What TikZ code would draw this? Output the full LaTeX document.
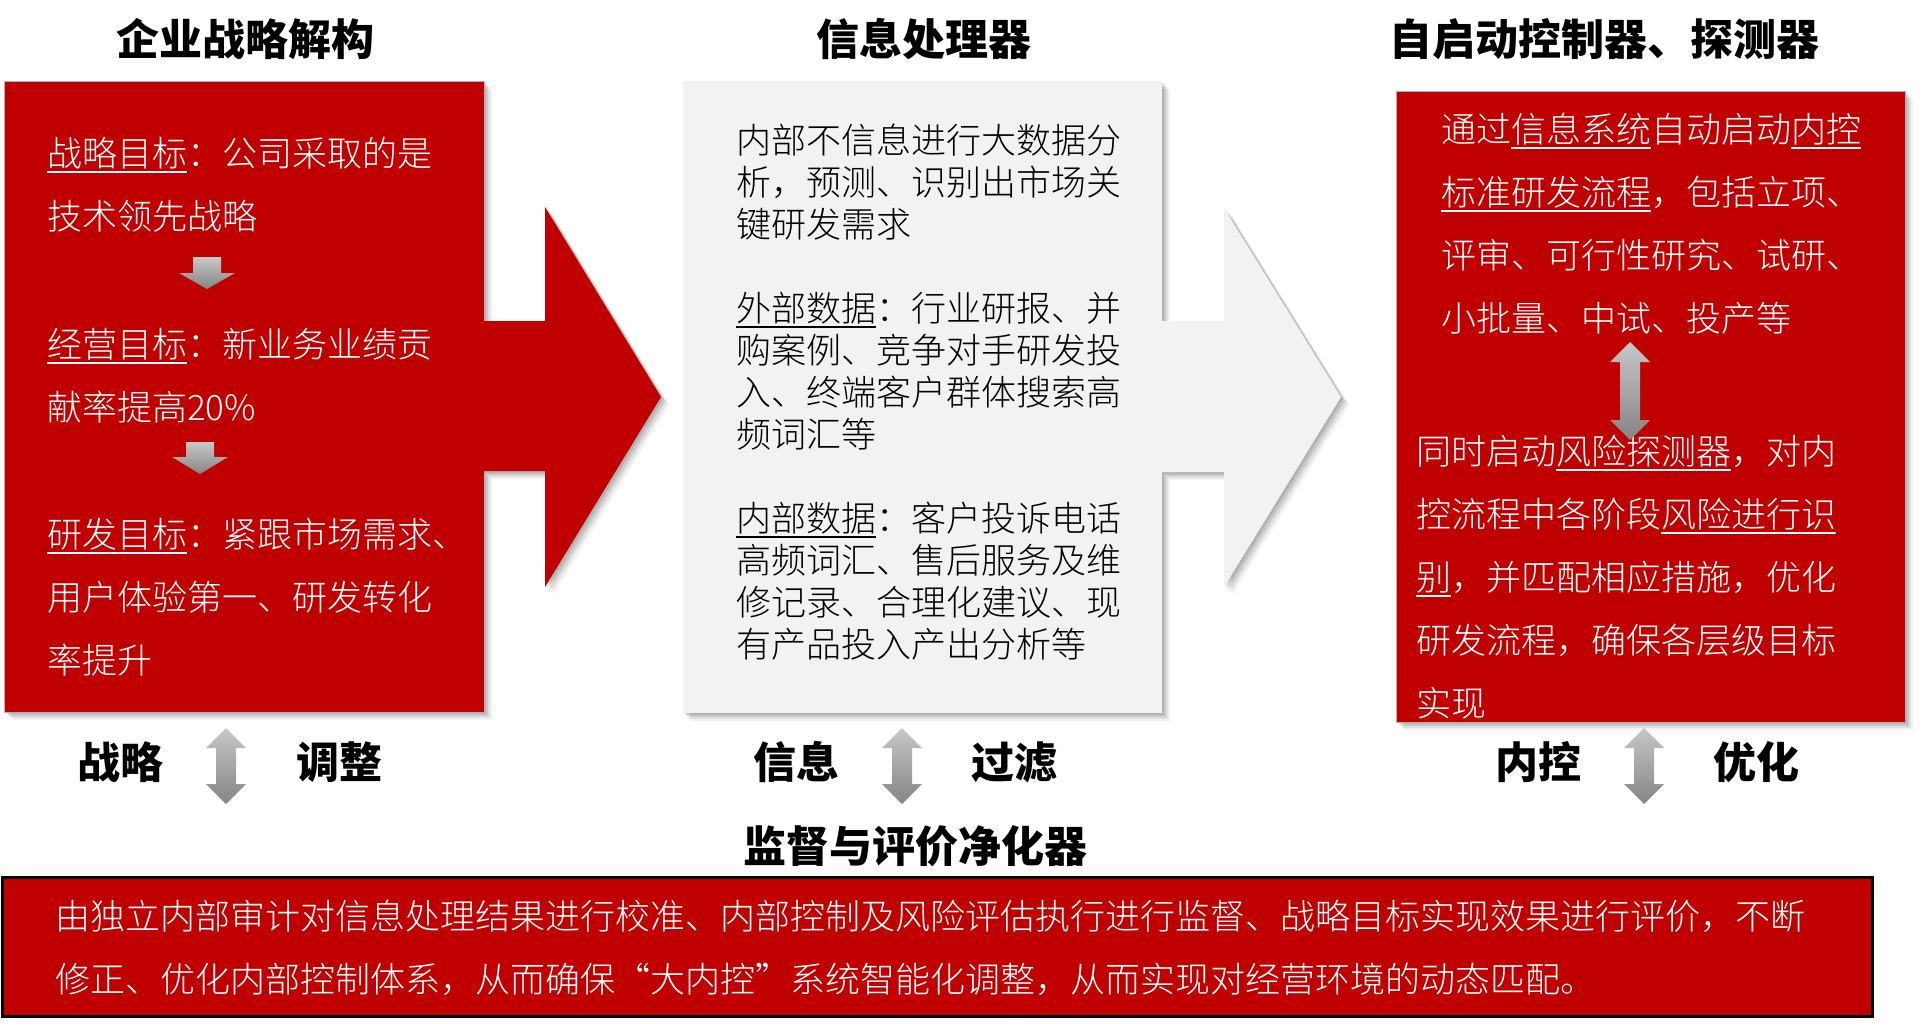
\documentclass[tikz,border=0pt]{standalone}
\usepackage{fontspec}
\setmainfont{Noto Sans CJK SC Light}
\newfontfamily\headfont{Noto Sans CJK SC Black}
\newsavebox\myulbox
\newcommand\myul[1]{\sbox\myulbox{#1}\rlap{\rule[-7pt]{\wd\myulbox}{2pt}}\usebox\myulbox}
\usetikzlibrary{shadows}
\definecolor{dred}{RGB}{192,0,0}
\definecolor{lgrey}{RGB}{242,242,242}
\tikzset{
  shad/.style={drop shadow={shadow xshift=2pt,shadow yshift=-2pt,fill=black,opacity=0.10},
               drop shadow={shadow xshift=4pt,shadow yshift=-4pt,fill=black,opacity=0.10},
               drop shadow={shadow xshift=6pt,shadow yshift=-6pt,fill=black,opacity=0.08},
               drop shadow={shadow xshift=8pt,shadow yshift=-8pt,fill=black,opacity=0.05}},
  redpanel/.style={fill=dred,draw=black!30,line width=1pt,inner sep=0pt,shad},
  greypanel/.style={fill=lgrey,inner sep=0pt,shad},
  body/.style={anchor=base west,inner sep=0pt,align=left,font=\fontsize{35}{63}\selectfont},
  whitebody/.style={body,text=white},
  blackbody/.style={body,text=black,font=\fontsize{35}{42}\selectfont},
  heading/.style={anchor=base,inner sep=0pt,font=\headfont\fontsize{43}{50}\selectfont,text=black},
  gshade/.style={top color=black!22,bottom color=black!48},
}
\newcommand\vdbl[3]{\shade[gshade] (#1,#2) -- ++(20,20) -- ++(-10,0) -- (#1+10,#3-20) -- ++(10,0) -- (#1,#3) -- ++(-20,-20) -- ++(10,0) -- (#1-10,#2+20) -- ++(-10,0) -- cycle;}
\newcommand\vdown[4]{\shade[gshade] (#1-14,#2) -- (#1+14,#2) -- (#1+14,#3) -- (#1+28,#3) -- (#1,#4) -- (#1-28,#3) -- (#1-14,#3) -- cycle;}
\begin{document}
\begin{tikzpicture}[x=1pt,y=-1pt]
\useasboundingbox (0,0) rectangle (1920,1023);
\fill[white] (0,0) rectangle (1920,1023);

% panels
\node[redpanel,minimum width=480pt,minimum height=631pt] (stratbox) at (244,396.5) {};
\path[fill=dred,shad] (484,321) -- (545,321) -- (545,207) -- (661,397) -- (545,587) -- (545,471) -- (484,471) -- cycle;
\node[greypanel,minimum width=479pt,minimum height=632pt] (infobox) at (922.5,397) {};
\path[fill=lgrey,shad] (1162,321) -- (1224,321) -- (1224,208) -- (1341,397) -- (1224,587) -- (1224,472) -- (1162,472) -- cycle;
\node[redpanel,minimum width=509pt,minimum height=631pt] (ctrlbox) at (1650.5,406.5) {};
\node[fill=dred,draw=black,line width=3pt,inner sep=0pt,minimum width=1870pt,minimum height=139pt] (evalbox) at (937.5,947) {};

% headings
\node[heading] (t1) at (245,55) {企业战略解构};
\node[heading] (t2) at (924,55) {信息处理器};
\node[heading] (t3) at (1604,55) {自启动控制器、探测器};
\node[heading] (t4) at (915,862) {监督与评价净化器};

% left panel text (base = last line)
\node[whitebody] (g1) at (47,229) {\myul{战略目标}：公司采取的是\\技术领先战略};
\node[whitebody] (g2) at (47,420) {\myul{经营目标}：新业务业绩贡\\献率提高20\%};
\node[whitebody] (g3) at (47,673) {\myul{研发目标}：紧跟市场需求、\\用户体验第一、研发转化\\率提升};
\vdown{207}{257}{273}{289}
\vdown{200}{442}{457}{474}

% middle panel text
\node[blackbody] (m1) at (736,237) {内部不信息进行大数据分\\析，预测、识别出市场关\\键研发需求};
\node[blackbody] (m2) at (736,447) {\myul{外部数据}：行业研报、并\\购案例、竞争对手研发投\\入、终端客户群体搜索高\\频词汇等};
\node[blackbody] (m3) at (736,657) {\myul{内部数据}：客户投诉电话\\高频词汇、售后服务及维\\修记录、合理化建议、现\\有产品投入产出分析等};

% right panel text
\node[whitebody] (r1) at (1441,331) {通过\myul{信息系统}自动启动\myul{内控}\\\myul{标准研发流程}，包括立项、\\评审、可行性研究、试研、\\小批量、中试、投产等};
\node[whitebody] (r2) at (1416,716) {同时启动\myul{风险探测器}，对内\\控流程中各阶段\myul{风险进行识}\\\myul{别}，并匹配相应措施，优化\\研发流程，确保各层级目标\\实现};
\vdbl{1630}{342}{440}

% bottom labels
\node[heading] (s1) at (120,778) {战略};
\node[heading] (s2) at (339,778) {调整};
\vdbl{226}{728}{804}
\node[heading] (s3) at (796,778) {信息};
\node[heading] (s4) at (1014,778) {过滤};
\vdbl{902}{728}{804}
\node[heading] (s5) at (1538,778) {内控};
\node[heading] (s6) at (1756,778) {优化};
\vdbl{1644}{728}{804}

% bottom text
\node[whitebody] (b1) at (55,992) {由独立内部审计对信息处理结果进行校准、内部控制及风险评估执行进行监督、战略目标实现效果进行评价，不断\\修正、优化内部控制体系，从而确保“大内控”系统智能化调整，从而实现对经营环境的动态匹配。};
\end{tikzpicture}
\end{document}
